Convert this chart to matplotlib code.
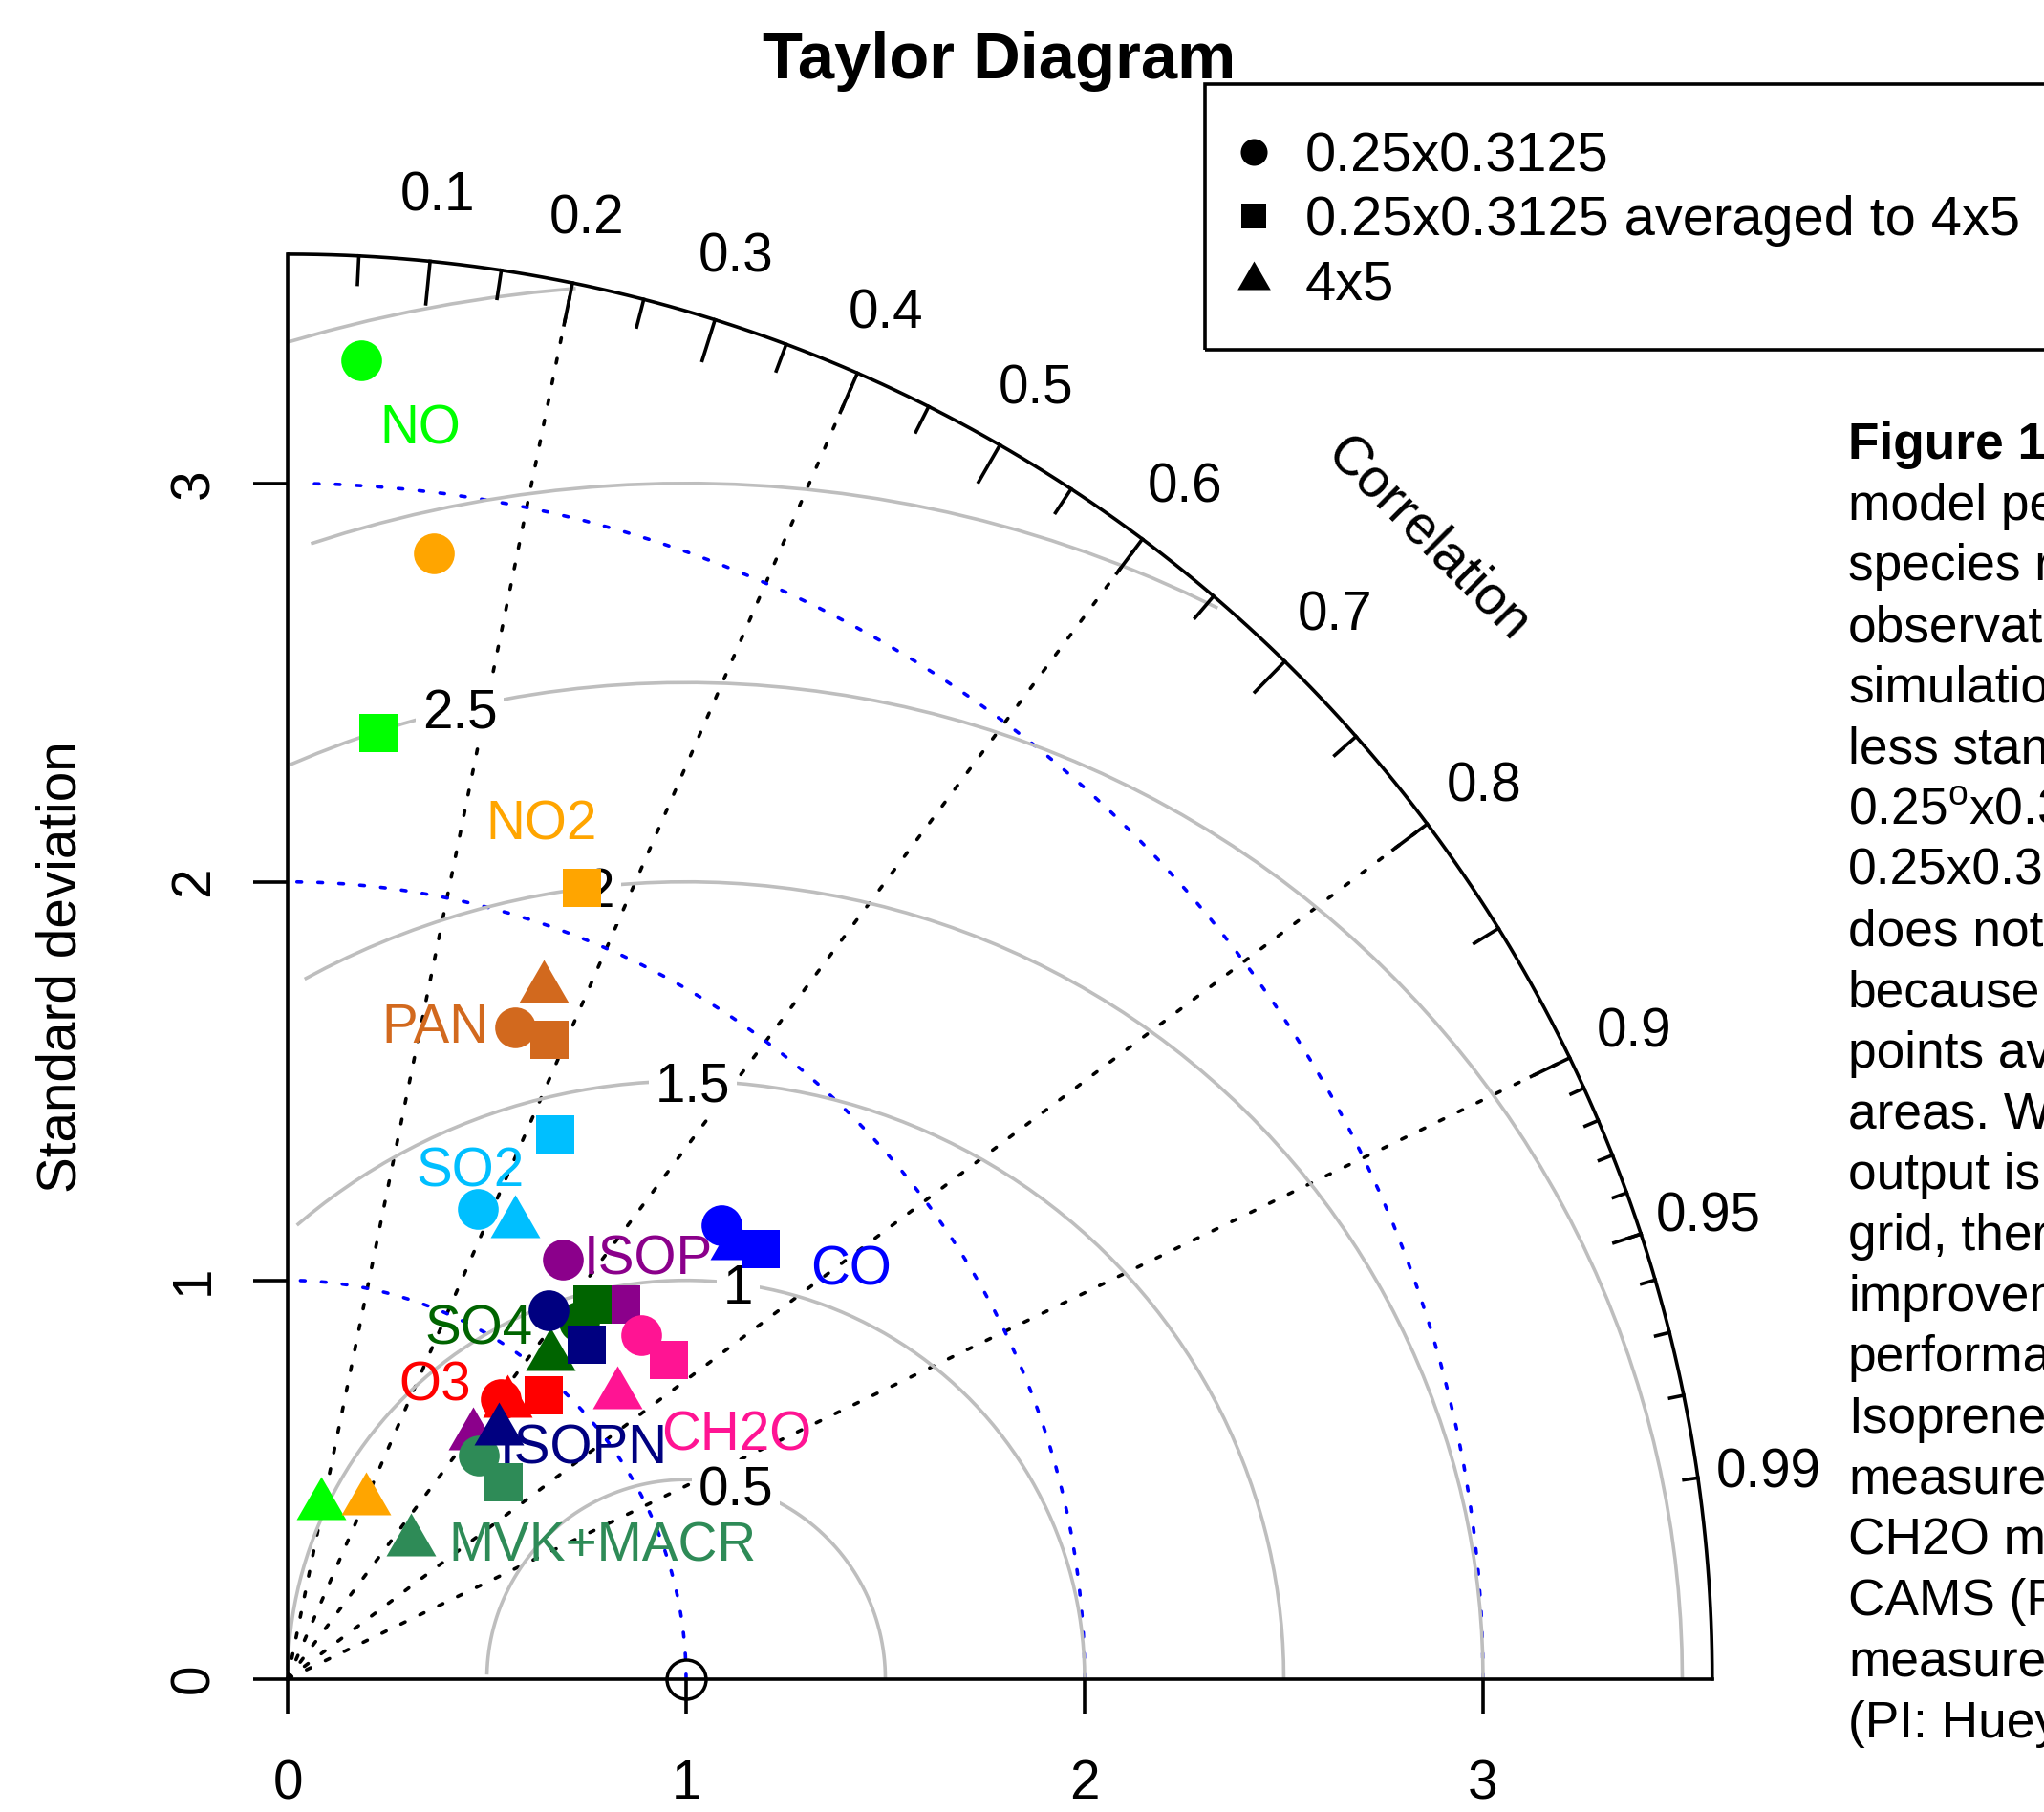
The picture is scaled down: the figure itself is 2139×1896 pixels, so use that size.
import numpy as np
import matplotlib
matplotlib.use("Agg")
import matplotlib.pyplot as plt
from matplotlib.path import Path
from matplotlib.lines import Line2D
from matplotlib.patches import Rectangle

plt.rcParams["font.family"] = ["Liberation Sans", "DejaVu Sans"]
plt.rcParams["mathtext.fontset"] = "custom"
plt.rcParams["mathtext.rm"] = "Liberation Sans"

# normalised standard deviation and correlation of each species vs. observations
species = ["NO", "NO2", "PAN", "SO2", "ISOP", "CO", "SO4", "O3", "CH2O", "MVK+MACR", "ISOPN"]
colors = ["#00FF00", "#FFA500", "#D2691E", "#00BFFF", "#8B008B", "#0000FF",
          "#006400", "#FF0000", "#FF1493", "#2E8B57", "#000080"]

# 0.25x0.3125
sd_hr = [3.315, 2.849, 1.732, 1.272, 1.260, 1.576, 1.157, 0.882, 1.239, 0.737, 1.133]
cor_hr = [0.056, 0.129, 0.330, 0.375, 0.549, 0.691, 0.633, 0.606, 0.717, 0.650, 0.577]
# 0.25x0.3125 averaged to 4x5
sd_avg = [2.385, 2.118, 1.734, 1.523, 1.258, 1.604, 1.212, 0.959, 1.249, 0.733, 1.126]
cor_avg = [0.096, 0.349, 0.379, 0.441, 0.666, 0.740, 0.632, 0.670, 0.767, 0.739, 0.667]
# 4x5
sd_lr = [0.443, 0.489, 1.849, 1.278, 0.768, 1.562, 1.045, 0.884, 1.093, 0.463, 0.818]
cor_lr = [0.191, 0.400, 0.348, 0.447, 0.605, 0.718, 0.632, 0.623, 0.757, 0.670, 0.647]

legend_labels = ["0.25x0.3125", "0.25x0.3125 averaged to 4x5", "4x5"]
gammas = [0.5, 1, 1.5, 2, 2.5, 3, 3.5]
corr_lines = [0.2, 0.4, 0.6, 0.8, 0.9]
corr_labels = [0.1, 0.2, 0.3, 0.4, 0.5, 0.6, 0.7, 0.8, 0.9, 0.95, 0.99]
sd_ticks = [0, 1, 2, 3]
sd_ref = 1.0
maxsd = 3.575

caption_title = "Figure 1:"
caption = [
    "model performance",
    "species relative",
    "observations",
    "simulation",
    "less standard",
    r"0.25$^{\mathrm{o}}$x0.3125$^{\mathrm{o}}$",
    "0.25x0.3125",
    "does not",
    "because",
    "points averaged",
    "areas. When",
    "output is",
    "grid, there",
    "improvement",
    "performance",
    "Isoprene",
    "measurements",
    "CH2O measurements",
    "CAMS (PI: Fried)",
    "measurements",
    "(PI: Huey)",
]

# text positions of the species names (diagram coordinates)
label_xy = {"NO": (0.334, 3.149), "NO2": (0.637, 2.156), "PAN": (0.371, 1.646),
            "SO2": (0.459, 1.285), "ISOP": (0.905, 1.066), "CO": (1.415, 1.039),
            "SO4": (0.479, 0.890), "O3": (0.369, 0.748), "CH2O": (1.126, 0.625),
            "MVK+MACR": (0.790, 0.346), "ISOPN": (0.743, 0.590)}

W, H, DPI = 2139, 1896, 100
FS = 40.8
FS_LEG = 41.6
FS_CAP = 38.3
LW = 2.6
DOT = (0, (1.35, 4.73))
x0, y0, unit = 301, 1756.7, 417   # canvas pixel of the origin, pixels per unit sd


def fx(px):
    return px / W


def fy(py):
    return 1 - py / H


fig = plt.figure(figsize=(W / DPI, H / DPI), dpi=DPI)
ax = fig.add_axes([fx(x0), fy(y0), maxsd * unit / W, maxsd * unit / H])
ax.set_xlim(0, maxsd)
ax.set_ylim(0, maxsd)
ax.patch.set_visible(False)
for s in ["top", "right"]:
    ax.spines[s].set_visible(False)
for s in ["left", "bottom"]:
    ax.spines[s].set_linewidth(LW)
    ax.spines[s].set_zorder(4)
ax.set_xticks(sd_ticks, [str(t) for t in sd_ticks])
ax.set_yticks(sd_ticks, [str(t) for t in sd_ticks], rotation=90, va="center")
ax.tick_params(direction="out", length=26, width=LW, labelsize=FS)
ax.tick_params(axis="x", pad=34)
ax.tick_params(axis="y", pad=25)
ax.set_ylabel("Standard deviation", fontsize=FS)
ax.yaxis.set_label_coords((92 - x0) / (maxsd * unit), 0.5)

# radial correlation lines
for gcl in corr_lines:
    ax.plot([0, maxsd * gcl], [0, maxsd * np.sqrt(1 - gcl ** 2)], color="black",
            lw=LW, ls=DOT, dash_capstyle="round", zorder=1, clip_on=False)

# dotted std. dev. arcs
t = np.arange(0, np.pi / 2, 0.03)
for sdarc in sd_ticks[1:]:
    ax.plot(np.cos(t) * sdarc, np.sin(t) * sdarc, color="#0000FF", lw=LW, ls=DOT,
            dash_capstyle="round", zorder=1, clip_on=False)

# centred RMS difference arcs around the reference point
t = np.arange(0, np.pi, 0.03)
for i, g in enumerate(gammas):
    xc = np.cos(t) * g + sd_ref
    yc = np.sin(t) * g
    neg = np.where(xc < 0)[0]
    end = neg[0] if len(neg) else len(t)
    out = np.where(xc ** 2 + yc ** 2 > maxsd ** 2)[0]
    start = out[-1] + 1 if len(out) else 0
    ax.plot(xc[start:end], yc[start:end], color="#BEBEBE", lw=LW, zorder=1.5,
            solid_capstyle="butt", clip_on=False)
    ang = 1.32 + 0.12 * i
    lx, ly = sd_ref + g * np.cos(ang), g * np.sin(ang)
    if lx > 0:
        ax.text(lx, ly, f"{g:g}", fontsize=FS, ha="center", va="center_baseline",
                zorder=2, bbox=dict(boxstyle="square,pad=0.12", fc="white", ec="none"))

# outer correlation arc with ticks
t = np.arange(0, np.pi / 2, 0.01)
ax.plot(np.cos(t) * maxsd, np.sin(t) * maxsd, color="black", lw=LW, zorder=3, clip_on=False)
for vals, inner in [(np.arange(0.1, 0.91, 0.1), 0.97), (np.arange(0.05, 0.96, 0.1), 0.98),
                    (np.arange(0.91, 0.995, 0.01), 0.99)]:
    for a in np.arccos(vals):
        ax.plot([np.cos(a) * maxsd, np.cos(a) * inner * maxsd],
                [np.sin(a) * maxsd, np.sin(a) * inner * maxsd],
                color="black", lw=LW, zorder=3, clip_on=False)
for c in corr_labels:
    a = np.arccos(c)
    ax.text(np.cos(a) * 1.05 * maxsd, np.sin(a) * 1.05 * maxsd, f"{c:g}", fontsize=FS,
            ha="center", va="center_baseline", clip_on=False)
ax.text(0.8 * maxsd, 0.8 * maxsd, "Correlation", fontsize=FS, rotation=-45,
        ha="center", va="center", clip_on=False)

# reference (observations)
ax.plot(sd_ref, 0, marker="o", ms=29.5, mfc="none", mec="black", mew=2.5,
        zorder=4.5, clip_on=False)

# model points
tri = Path([(0, 1), (-np.sqrt(3) / 2, -0.5), (np.sqrt(3) / 2, -0.5), (0, 1)],
           [Path.MOVETO, Path.LINETO, Path.LINETO, Path.CLOSEPOLY])
shapes = [("o", 30.7), ("s", 28.8), (tri, 43.2)]
runs = [(sd_hr, cor_hr), (sd_avg, cor_avg), (sd_lr, cor_lr)]
for i, name in enumerate(species):
    for (sds, cors), (mk, ms) in zip(runs, shapes):
        th = np.arccos(cors[i])
        ax.plot(sds[i] * np.cos(th), sds[i] * np.sin(th), ls="none", marker=mk, ms=ms,
                color=colors[i], mew=0, zorder=5, clip_on=False)
for i, name in enumerate(species):
    lx, ly = label_xy[name]
    ax.text(lx, ly, name, color=colors[i], fontsize=FS, ha="center",
            va="center_baseline", zorder=6)

# legend: entries without frame, box drawn on its own
handles = [Line2D([], [], ls="none", marker="o", ms=20.2, color="black", mew=0),
           Line2D([], [], ls="none", marker="s", ms=19.0, color="black", mew=0),
           Line2D([], [], ls="none", marker=tri, ms=28.8, color="black", mew=0)]
ax.legend(handles, legend_labels, loc="upper left", bbox_to_anchor=(fx(1290), fy(137)),
          bbox_transform=fig.transFigure, borderaxespad=0, borderpad=0, fontsize=FS_LEG,
          frameon=False, handlelength=0.775, handletextpad=0.54, handleheight=0.7,
          labelspacing=0.225)
fig.patches.append(Rectangle((fx(1261), fy(365.6)), fx(2200) - fx(1261), fy(88.3) - fy(365.6),
                             transform=fig.transFigure, fill=False, ec="black", lw=LW))

fig.text(fx(1046), fy(81.7), "Taylor Diagram", ha="center", va="baseline",
         fontsize=49.5, fontweight="bold")

# figure caption
fig.text(fx(1934), fy(480), caption_title, fontsize=FS_CAP, fontweight="bold", va="baseline")
for k, line in enumerate(caption):
    fig.text(fx(1934), fy(480 + 63.7 * (k + 1)), line, fontsize=FS_CAP, va="baseline")

fig.savefig("out.png", dpi=DPI)
